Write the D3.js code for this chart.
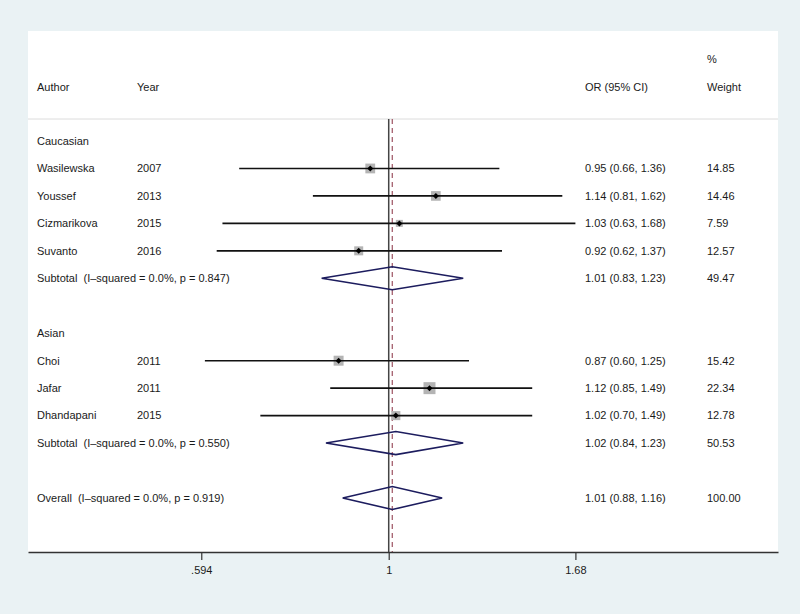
<!DOCTYPE html>
<html><head><meta charset="utf-8">
<script src="https://cdn.jsdelivr.net/npm/d3@7"></script>
<style>body{margin:0;background:#eaf2f4}svg{display:block}text{font-family:"Liberation Sans",Arial,Helvetica,sans-serif;font-size:11px;fill:#1a1a1a;white-space:pre}</style>
</head><body><svg id="c" width="800" height="614"></svg>
<script>
// ---- data ----
const labels   = ["Caucasian","Wasilewska","Youssef","Cizmarikova","Suvanto","Subtotal  (I\u2013squared = 0.0%, p = 0.847)","","Asian","Choi","Jafar","Dhandapani","Subtotal  (I\u2013squared = 0.0%, p = 0.550)","","Overall  (I\u2013squared = 0.0%, p = 0.919)"];
const years    = ["","2007","2013","2015","2016","","","","2011","2011","2015","","",""];
const kinds    = ["group","study","study","study","study","sub","blank","group","study","study","study","sub","blank","overall"];
const orVals   = [null,0.95,1.14,1.03,0.92,1.01,null,null,0.87,1.12,1.02,1.02,null,1.01];
const loVals   = [null,0.66,0.81,0.63,0.62,0.83,null,null,0.60,0.85,0.70,0.84,null,0.88];
const hiVals   = [null,1.36,1.62,1.68,1.37,1.23,null,null,1.25,1.49,1.49,1.23,null,1.16];
const weights  = [null,14.85,14.46,7.59,12.57,49.47,null,null,15.42,22.34,12.78,50.53,null,100.00];
const tickVals = [0.594,1,1.68];
const tickLabels = [".594","1","1.68"];
const axisDomain = [0.367,2.95];
const overallOR = 1.01;

// ---- drawing ----
const svg = d3.select("#c");
const pL = 28, pR = 778, pT = 31, axisY = 552;
const x = d3.scaleLog().domain(axisDomain).range([pL,pR]);
const y = d3.scaleLinear().domain([0,labels.length-1]).range([141,498]);
const fmt2 = d3.format(".2f");

svg.append("rect").attr("x",pL).attr("y",pT).attr("width",pR-pL).attr("height",axisY-pT).attr("fill","#fff");

// header
svg.append("text").attr("x",707).attr("y",59).attr("dy","0.35em").text("%");
[["Author",37],["Year",137],["OR (95% CI)",585],["Weight",707]].forEach(([t,px])=>{
  svg.append("text").attr("x",px).attr("y",87).attr("dy","0.35em").text(t);
});
svg.append("line").attr("x1",pL).attr("x2",pR).attr("y1",119).attr("y2",119).attr("stroke","#dcdcdc").attr("stroke-width",1);

// reference lines
svg.append("line").attr("x1",x(1)).attr("x2",x(1)).attr("y1",119).attr("y2",axisY).attr("stroke","#444").attr("stroke-width",1.5);
svg.append("line").attr("x1",x(overallOR)).attr("x2",x(overallOR)).attr("y1",119).attr("y2",axisY).attr("stroke","#a5606e").attr("stroke-width",1.3).attr("stroke-dasharray","5,4");

const maxW = d3.max(weights.filter((w,i)=>kinds[i]==="study"));
const sq = d3.scaleSqrt().domain([0,maxW]).range([0,12]);

labels.forEach((lab,i)=>{
  const yy = y(i), k = kinds[i];
  if (k==="blank") return;
  svg.append("text").attr("x",37).attr("y",yy).attr("dy","0.35em").attr("xml:space","preserve").text(lab);
  if (years[i]) svg.append("text").attr("x",137).attr("y",yy).attr("dy","0.35em").text(years[i]);
  if (orVals[i]==null) return;
  svg.append("text").attr("x",585).attr("y",yy).attr("dy","0.35em").text(`${fmt2(orVals[i])} (${fmt2(loVals[i])}, ${fmt2(hiVals[i])})`);
  svg.append("text").attr("x",707).attr("y",yy).attr("dy","0.35em").text(fmt2(weights[i]));
  if (k==="study") {
    const s = sq(weights[i]);
    svg.append("rect").attr("x",x(orVals[i])-s/2).attr("y",yy-s/2).attr("width",s).attr("height",s).attr("fill","#b4b4b4");
    svg.append("line").attr("x1",x(loVals[i])).attr("x2",x(hiVals[i])).attr("y1",yy).attr("y2",yy).attr("stroke","#111").attr("stroke-width",1.6);
    const cx = x(orVals[i]), r = 3;
    svg.append("path").attr("d",`M${cx-r},${yy}L${cx},${yy-r}L${cx+r},${yy}L${cx},${yy+r}Z`).attr("fill","#000");
  } else {
    const h = 11.5;
    svg.append("path").attr("d",`M${x(loVals[i])},${yy}L${x(orVals[i])},${yy-h}L${x(hiVals[i])},${yy}L${x(orVals[i])},${yy+h}Z`)
      .attr("fill","none").attr("stroke","#1c1c5e").attr("stroke-width",1.6);
  }
});

// axis
const ax = d3.axisBottom(x).tickValues(tickVals).tickFormat((d,i)=>tickLabels[i]).tickSize(8).tickSizeOuter(0);
const g = svg.append("g").attr("transform",`translate(0,${axisY})`).call(ax);
g.select(".domain").attr("stroke","#333").attr("stroke-width",1.6);
g.selectAll(".tick line").attr("stroke","#333").attr("stroke-width",1.2);
g.selectAll(".tick text").attr("y",14).style("font-size","11px").style("font-family","'Liberation Sans',Arial,sans-serif").attr("fill","#1a1a1a");
</script></body></html>
